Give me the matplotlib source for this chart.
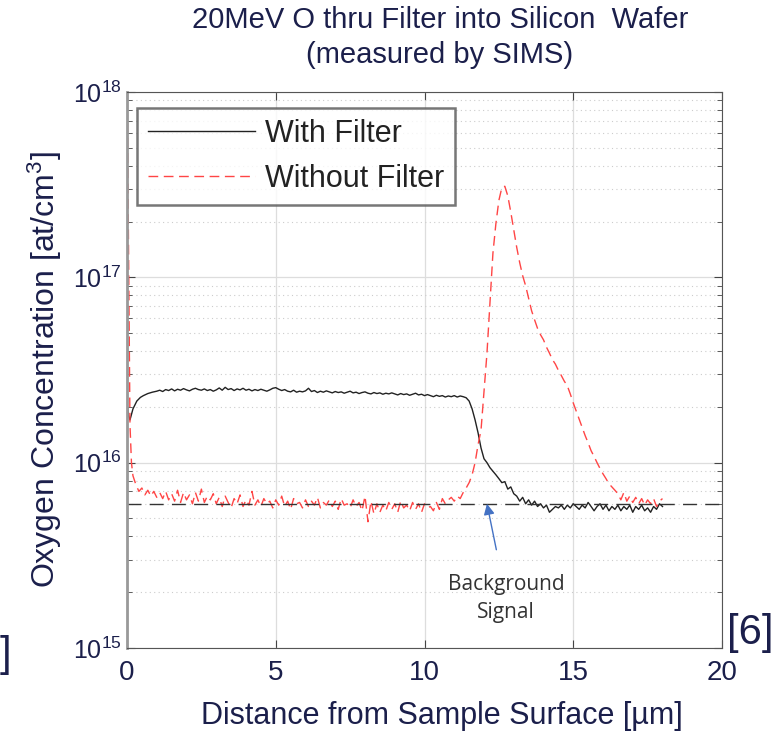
import numpy as np
import matplotlib
matplotlib.use('Agg')
import matplotlib.pyplot as plt

# depth [um] and concentration [1e15 at/cm3]
with_x = [0.0, 0.05, 0.1, 0.2, 0.33, 0.45, 0.55, 0.7, 0.85, 1.0, 1.1, 1.2, 1.3, 1.4, 1.5, 1.6, 1.7, 1.8, 1.9,
          2.0, 2.1, 2.2, 2.3, 2.4, 2.5, 2.6, 2.7, 2.8, 2.9, 3.0, 3.1, 3.2, 3.3, 3.4, 3.5, 3.6, 3.7, 3.8, 3.9,
          4.0, 4.1, 4.2, 4.3, 4.4, 4.5, 4.6, 4.7, 4.8, 4.9, 5.0, 5.1, 5.2, 5.3, 5.4, 5.5, 5.6, 5.7, 5.8, 5.9,
          6.0, 6.1, 6.2, 6.3, 6.4, 6.5, 6.6, 6.7, 6.8, 6.9, 7.0, 7.1, 7.2, 7.3, 7.4, 7.5, 7.6, 7.7, 7.8, 7.9,
          8.0, 8.1, 8.2, 8.3, 8.4, 8.5, 8.6, 8.7, 8.8, 8.9, 9.0, 9.1, 9.2, 9.3, 9.4, 9.5, 9.6, 9.7, 9.8, 9.9,
          10.0, 10.1, 10.2, 10.3, 10.4, 10.5, 10.6, 10.7, 10.8, 10.9, 11.0, 11.1, 11.2, 11.3, 11.4, 11.5,
          11.6, 11.7, 11.8, 11.9, 12.0, 12.1, 12.2, 12.3, 12.4, 12.5, 12.6, 12.7, 12.8, 12.9, 13.0, 13.1,
          13.2, 13.3, 13.4, 13.5, 13.6, 13.7, 13.8, 13.9, 14.0, 14.1, 14.2, 14.3, 14.4, 14.5, 14.6, 14.7,
          14.8, 14.9, 15.0, 15.1, 15.2, 15.3, 15.4, 15.5, 15.6, 15.7, 15.8, 15.9, 16.0, 16.1, 16.2, 16.3,
          16.4, 16.5, 16.6, 16.7, 16.8, 16.9, 17.0, 17.1, 17.2, 17.3, 17.4, 17.5, 17.6, 17.7, 17.8, 17.9, 18.0]
with_y = [21, 18, 17, 19.5, 21.5, 22.5, 23, 23.6, 24.0, 24.3, 24.6, 24.2, 24.8, 24.5, 25.0, 24.4, 24.9, 24.6, 25.1,
          24.7, 24.4, 24.9, 25.2, 24.8, 24.6, 25.0, 24.5, 24.8, 24.3, 24.7, 25.3, 24.6, 25.5, 24.8, 25.1, 24.5, 25.0, 24.7, 25.2,
          24.6, 24.9, 24.4, 24.8, 24.5, 24.9, 24.6, 24.3, 24.7, 25.2, 25.4, 24.9, 24.5, 24.8, 24.3, 24.1, 24.6, 24.0, 24.3, 24.1,
          24.4, 25.2, 24.2, 24.5, 23.9, 24.3, 24.0, 24.4, 24.1, 23.8, 24.2, 23.9, 24.1, 23.7, 24.0, 24.3, 23.8, 24.0, 23.6, 23.9,
          24.1, 23.7, 23.5, 23.9, 23.6, 23.8, 23.4, 23.7, 23.5, 23.8, 23.5, 23.2, 23.6, 23.3, 23.5, 23.1, 23.4, 23.7, 23.2, 23.4,
          23.0, 23.3, 23.0, 22.7, 23.1, 22.8, 23.0, 22.6, 22.9, 22.7, 23.0, 22.6, 22.9, 22.7, 22.4, 21.5,
          19.5, 17, 14.5, 12.0, 10.5, 10.0, 9.4, 9.0, 8.6, 8.2, 7.8, 7.9, 7.2, 7.4, 6.8, 6.6,
          6.2, 6.5, 6.0, 6.3, 5.9, 6.2, 5.8, 6.0, 5.7, 5.9, 5.4, 5.6, 5.8, 5.7, 5.9, 5.6,
          5.9, 5.7, 6.0, 5.8, 5.6, 5.9, 5.7, 6.1, 5.8, 5.5, 5.8, 6.0, 5.6, 5.9, 5.5, 5.8,
          5.6, 5.9, 5.5, 5.8, 5.6, 5.9, 5.4, 5.8, 5.6, 5.9, 5.5, 5.7, 5.4, 5.8, 5.6, 6.0, 5.8]

without_x = [0.0, 0.02, 0.05, 0.08, 0.1, 0.15, 0.2, 0.3, 0.4, 0.5, 0.6, 0.7, 0.8, 0.9,
             1.0, 1.1, 1.2, 1.3, 1.4, 1.5, 1.6, 1.7, 1.8, 1.9, 2.0, 2.1, 2.2, 2.3, 2.4, 2.5, 2.6, 2.7, 2.8, 2.9,
             3.0, 3.1, 3.2, 3.3, 3.4, 3.5, 3.6, 3.7, 3.8, 3.9, 4.0, 4.1, 4.2, 4.3, 4.4, 4.5, 4.6, 4.7, 4.8, 4.9,
             5.0, 5.1, 5.2, 5.3, 5.4, 5.5, 5.6, 5.7, 5.8, 5.9, 6.0, 6.1, 6.2, 6.3, 6.4, 6.5, 6.6, 6.7, 6.8, 6.9,
             7.0, 7.1, 7.2, 7.3, 7.4, 7.5, 7.6, 7.7, 7.8, 7.9, 8.0, 8.1, 8.2, 8.3, 8.4, 8.5, 8.6, 8.7, 8.8, 8.9,
             9.0, 9.1, 9.2, 9.3, 9.4, 9.5, 9.6, 9.7, 9.8, 9.9, 10.0, 10.1, 10.2, 10.3, 10.4, 10.5, 10.6, 10.7,
             10.8, 10.9, 11.0, 11.1, 11.2, 11.3, 11.4, 11.5, 11.6, 11.7, 11.8, 11.9, 12.0, 12.1, 12.2, 12.3,
             12.4, 12.5, 12.6, 12.7, 12.8, 12.9, 13.0, 13.1, 13.2, 13.3, 13.4, 13.5, 13.6, 13.7, 13.8, 13.9,
             14.0, 14.1, 14.2, 14.3, 14.4, 14.5, 14.6, 14.7, 14.8, 14.9, 15.0, 15.1, 15.2, 15.3, 15.4, 15.5,
             15.6, 15.7, 15.8, 15.9, 16.0, 16.1, 16.2, 16.3, 16.4, 16.5, 16.6, 16.7, 16.8, 16.9, 17.0, 17.1,
             17.2, 17.3, 17.4, 17.5, 17.6, 17.7, 17.8, 17.9, 18.0]
without_y = [1000, 600, 150, 40, 16, 10, 8.5, 7.6, 7.0, 7.3, 6.7, 7.1, 6.6, 7.0,
             6.5, 6.9, 6.4, 7.0, 6.3, 6.8, 6.2, 7.1, 6.1, 6.9, 6.3, 6.7, 6.0, 6.9, 6.2, 7.2, 6.1, 6.6, 6.3, 6.8,
             6.0, 6.5, 5.8, 6.6, 6.1, 5.7, 6.4, 6.0, 6.7, 5.8, 6.3, 5.9, 7.0, 5.9, 6.3, 5.8, 6.4, 6.0, 6.2, 5.7,
             6.3, 5.9, 6.6, 5.8, 6.2, 5.6, 6.4, 6.0, 6.1, 5.7, 6.3, 5.8, 6.2, 5.9, 6.5, 5.7, 6.1, 5.9, 6.3, 5.8,
             6.2, 5.6, 6.4, 5.9, 6.0, 5.7, 6.3, 5.8, 6.1, 5.5, 6.6, 4.8, 6.2, 5.3, 6.0, 5.4, 5.9, 5.5, 6.1, 5.6,
             6.0, 5.4, 6.2, 5.7, 5.9, 5.5, 6.1, 5.6, 6.0, 5.4, 6.0, 5.7, 5.8, 5.5, 6.1, 5.6, 6.4, 6.0,
             6.3, 6.5, 6.2, 6.6, 6.4, 6.9, 7.3, 7.8, 8.6, 10.0, 12.5, 15, 24, 39, 73, 135,
             195, 260, 305, 310, 275, 225, 180, 145, 120, 102, 90, 77, 66, 59, 53, 49,
             46, 42, 39, 36, 34, 31.5, 29.5, 27.5, 26, 23.5, 21, 19, 17.2, 15.5, 14, 12.8,
             11.6, 10.8, 10.0, 9.3, 8.7, 8.2, 7.7, 7.4, 7.1, 6.8, 6.3, 6.9, 6.2, 6.6, 6.1, 6.5,
             6.0, 6.4, 5.9, 6.3, 6.0, 6.4, 5.8, 6.2, 6.4]

background_level = 6.0  # 1e15 at/cm3
unit = 1e15

navy = '#1b1f4b'
sans = ['Liberation Sans', 'DejaVu Sans']
plt.rcParams['font.family'] = sans
plt.rcParams['mathtext.default'] = 'regular'

fig = plt.figure(figsize=(7.81, 7.32), dpi=100)
ax = fig.add_axes([127 / 781, 1 - 648 / 732, 595 / 781, 556 / 732])

ax.plot(with_x, np.array(with_y) * unit, color='#222222', lw=1.0, label='With Filter')
ax.plot(without_x, np.array(without_y) * unit, color='#ff4545', lw=1.0, dashes=(7, 4), label='Without Filter')
ax.axhline(background_level * unit, color='#333333', lw=1.0, dashes=(10, 6))

ax.set_yscale('log')
ax.set_xlim(0, 20)
ax.set_ylim(1e15, 1e18)
ax.set_xticks([0, 5, 10, 15, 20])
ax.set_yticks([1e15, 1e16, 1e17, 1e18])
ax.set_yticklabels(['$10^{15}$', '$10^{16}$', '$10^{17}$', '$10^{18}$'])

ax.grid(True, which='major', color='#dddddd', lw=0.9)
ax.grid(True, which='minor', axis='y', color='#cccccc', lw=0.8, linestyle=(0, (1, 3)))
ax.set_axisbelow(True)

ax.tick_params(which='both', direction='in', top=True, right=True, colors='#444444')
ax.tick_params(which='major', length=6, labelcolor=navy)
ax.tick_params(which='minor', length=3.5)
ax.tick_params(axis='x', labelsize=20, pad=9)
ax.tick_params(axis='y', labelsize=18, pad=4)
for s in ['top', 'right', 'bottom']:
    ax.spines[s].set_color('#555555')
ax.spines['left'].set_color('#999999')
ax.spines['left'].set_linewidth(2)

leg = ax.legend(loc='upper left', bbox_to_anchor=(0.017, 0.971), borderaxespad=0,
                fancybox=False, handlelength=3.5, handletextpad=0.35, prop={'size': 22},
                labelcolor='#222222', borderpad=0.35, labelspacing=0.5)
leg.get_frame().set_edgecolor('#555555')
leg.get_frame().set_linewidth(1.8)

ax.annotate('Background\nSignal', xy=(12.1, background_level * unit), xytext=(12.75, 1.85e15),
            ha='center', va='center', fontsize=15, color='#333333', family=['Open Sans', 'DejaVu Sans'],
            linespacing=1.4,
            arrowprops=dict(arrowstyle='-|>', color='#4472c4', lw=1.0, mutation_scale=16, shrinkA=16, shrinkB=0))

fig.text(440 / 781, 1 - 20 / 732, '20MeV O thru Filter into Silicon  Wafer', ha='center', va='center',
         fontsize=21, color=navy)
fig.text(440 / 781, 1 - 55 / 732, '(measured by SIMS)', ha='center', va='center',
         fontsize=21, color=navy)
fig.text(442 / 781, 1 - 716 / 732, 'Distance from Sample Surface [\u00b5m]', ha='center', va='center',
         fontsize=22, color=navy)
fig.text(45 / 781, 1 - 370 / 732, 'Oxygen Concentration [at/cm$^3$]', ha='center', va='center', rotation=90,
         fontsize=23, color=navy)
fig.text(750 / 781, 1 - 633 / 732, '[6]', ha='center', va='center', fontsize=30, color=navy)
fig.text(0 / 781, 1 - 655 / 732, ']', ha='left', va='center', fontsize=30, color=navy)

plt.savefig('out.png', dpi=100)
